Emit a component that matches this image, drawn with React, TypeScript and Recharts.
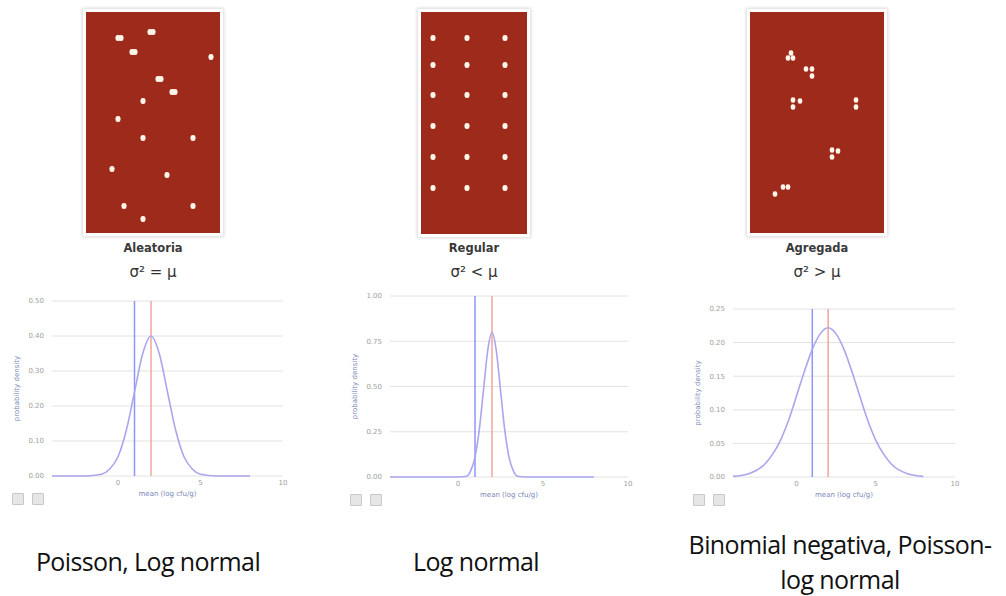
import React from "react";
import {
  CartesianGrid,
  Label,
  Line,
  LineChart,
  ReferenceLine,
  Scatter,
  ScatterChart,
  XAxis,
  YAxis,
} from "recharts";

// colony positions on each plate, in plate units (origin top-left)
const randomColonies = [
  { x: 32, y: 26 }, { x: 35, y: 26 },
  { x: 64, y: 20 }, { x: 67, y: 20 },
  { x: 46, y: 40 }, { x: 49, y: 40 },
  { x: 125, y: 45 },
  { x: 72, y: 67 }, { x: 75, y: 67 },
  { x: 86, y: 80 }, { x: 89, y: 80 },
  { x: 57, y: 89 },
  { x: 32, y: 107 },
  { x: 57, y: 126 },
  { x: 107, y: 126 },
  { x: 26, y: 157 },
  { x: 81, y: 163 },
  { x: 38, y: 194 },
  { x: 107, y: 194 },
  { x: 57, y: 207 },
];

const regularCols = [12, 46, 84];
const regularRows = [26, 53, 83, 114, 145, 176];
const regularColonies = regularRows.flatMap((y) => regularCols.map((x) => ({ x, y })));

const aggregatedColonies = [
  { x: 41, y: 41 }, { x: 38, y: 46 }, { x: 43, y: 46 },
  { x: 56, y: 57 }, { x: 62, y: 57 }, { x: 62, y: 64 },
  { x: 43, y: 88 }, { x: 43, y: 95 }, { x: 50, y: 89 },
  { x: 106, y: 88 }, { x: 106, y: 95 },
  { x: 82, y: 138 }, { x: 82, y: 145 }, { x: 88, y: 139 },
  { x: 25, y: 182 }, { x: 33, y: 175 }, { x: 38, y: 175 },
];

// density curves: [mean (log cfu/g), probability density]
const poissonCurve = [
  [-4, 0], [-3, 0], [-2, 0], [-1, 0.005], [-0.5, 0.02], [0, 0.055], [0.5, 0.13],
  [1, 0.24], [1.5, 0.35], [2, 0.4], [2.5, 0.35], [3, 0.24], [3.5, 0.13], [4, 0.055],
  [4.5, 0.02], [5, 0.005], [6, 0], [7, 0], [8, 0],
];
const regularCurve = [
  [-4, 0], [-2, 0], [0, 0], [0.5, 0.004], [0.75, 0.035], [1, 0.11], [1.25, 0.26],
  [1.5, 0.48], [1.75, 0.7], [2, 0.8], [2.25, 0.7], [2.5, 0.48], [2.75, 0.26],
  [3, 0.11], [3.25, 0.035], [3.5, 0.004], [4, 0], [6, 0], [8, 0],
];
const aggregatedCurve = [
  [-4, 0.001], [-3, 0.005], [-2, 0.019], [-1.5, 0.034], [-1, 0.055], [-0.5, 0.084],
  [0, 0.12], [0.5, 0.157], [1, 0.19], [1.5, 0.213], [2, 0.222], [2.5, 0.213],
  [3, 0.19], [3.5, 0.157], [4, 0.12], [4.5, 0.084], [5, 0.055], [5.5, 0.034],
  [6, 0.019], [7, 0.005], [8, 0.001],
];

const xTicks = [0, 5, 10];
const poissonTicks = [0, 0.1, 0.2, 0.3, 0.4, 0.5];
const regularTicks = [0, 0.25, 0.5, 0.75, 1];
const aggregatedTicks = [0, 0.05, 0.1, 0.15, 0.2, 0.25];
const lowerMean = 1;
const upperMean = 2;

const toRows = (pts: number[][]) => pts.map(([m, d]) => ({ m, d }));

const RED = "#9e2a1c";

type PlateProps = {
  left: number;
  top: number;
  width: number;
  height: number;
  colonies: { x: number; y: number }[];
  dot: number;
  name: string;
  formula: string;
};

const Plate = ({ left, top, width, height, colonies, dot, name, formula }: PlateProps) => {
  const Colony = (p: any) => (
    <rect
      x={p.cx - dot / 2}
      y={p.cy - (dot + 1) / 2}
      width={dot}
      height={dot + 1}
      rx={dot / 2.2}
      fill="#fff6ea"
    />
  );
  return (
    <>
      <div
        style={{
          position: "absolute",
          left: left - 3,
          top: top - 3,
          width: width + 6,
          height: height + 6,
          background: "#fff",
          boxShadow: "0 0 3px 1px #d8d8d8",
        }}
      >
        <div style={{ position: "absolute", left: 3, top: 3, width, height, background: RED }}>
          <ScatterChart width={width} height={height} margin={{ top: 0, right: 0, bottom: 0, left: 0 }}>
            <XAxis type="number" dataKey="x" domain={[0, width]} hide />
            <YAxis type="number" dataKey="y" domain={[0, height]} reversed hide />
            <Scatter data={colonies} shape={Colony} isAnimationActive={false} />
          </ScatterChart>
        </div>
      </div>
      <div
        style={{
          position: "absolute",
          left: left + width / 2 - 60,
          width: 120,
          top: 241,
          textAlign: "center",
          fontFamily: "DejaVu Sans",
          fontWeight: 600,
          fontSize: 11.5,
          color: "#3a3a3a",
        }}
      >
        {name}
      </div>
      <div
        style={{
          position: "absolute",
          left: left + width / 2 - 60,
          width: 120,
          top: 263,
          textAlign: "center",
          fontFamily: "DejaVu Sans",
          fontSize: 15,
          color: "#333",
        }}
      >
        {formula}
      </div>
    </>
  );
};

type DensityProps = {
  x0: number;
  x1: number;
  y0: number;
  y1: number;
  curve: number[][];
  yMax: number;
  yTicks: number[];
};

const AXIS_W = 52;

const DensityChart = ({ x0, x1, y0, y1, curve, yMax, yTicks }: DensityProps) => {
  const width = x1 - x0 + AXIS_W + 10;
  const height = y1 - y0 + 10 + 24;
  const tick = { fontSize: 7, fill: "#a0a0a0", fontFamily: "DejaVu Sans" };
  return (
    <>
      <div style={{ position: "absolute", left: x0 - AXIS_W, top: y0 - 10 }}>
        <LineChart width={width} height={height} data={toRows(curve)} margin={{ top: 10, right: 10, left: 0, bottom: 4 }}>
          <CartesianGrid vertical={false} stroke="#e2e2e2" />
          <XAxis
            type="number"
            dataKey="m"
            domain={[-4, 10]}
            ticks={xTicks}
            height={20}
            axisLine={false}
            tickLine={false}
            tickSize={2}
            tickMargin={2}
            tick={tick}
          >
            <Label
              value="mean (log cfu/g)"
              position="insideBottom"
              offset={0}
              style={{ fontSize: 7, fill: "#7a86b8", fontFamily: "DejaVu Sans" }}
            />
          </XAxis>
          <YAxis
            type="number"
            domain={[0, yMax]}
            ticks={yTicks}
            width={AXIS_W}
            axisLine={false}
            tickLine={false}
            tick={tick}
            tickFormatter={(v: number) => v.toFixed(2)}
          >
            <Label
              content={({ viewBox }: any) => {
                const cx = viewBox.x + 17;
                const cy = viewBox.y + viewBox.height / 2;
                return (
                  <text
                    x={cx}
                    y={cy}
                    transform={`rotate(-90 ${cx} ${cy})`}
                    textAnchor="middle"
                    dominantBaseline="central"
                    fontSize={7}
                    fill="#7a86b8"
                    fontFamily="DejaVu Sans"
                  >
                    probability density
                  </text>
                );
              }}
            />
          </YAxis>
          <ReferenceLine x={lowerMean} stroke="#8f95ff" strokeWidth={1.5} />
          <ReferenceLine x={upperMean} stroke="#f2a59c" strokeWidth={1.5} />
          <Line
            type="monotone"
            dataKey="d"
            stroke="#aaa6ee"
            strokeWidth={1.6}
            dot={false}
            isAnimationActive={false}
          />
        </LineChart>
      </div>
      {[0, 1].map((i) => (
        <div
          key={i}
          style={{
            position: "absolute",
            left: x0 - 40 + i * 20,
            top: y1 + 17,
            width: 10,
            height: 10,
            background: "#e6e6e6",
            border: "1px solid #c8c8c8",
            borderRadius: 1,
          }}
        />
      ))}
    </>
  );
};

const caption: React.CSSProperties = {
  position: "absolute",
  textAlign: "center",
  fontFamily: "Open Sans",
  fontSize: 25,
  letterSpacing: -0.6,
  color: "#111",
  lineHeight: "35px",
};

export default function App() {
  return (
    <div
      style={{
        position: "absolute",
        left: 0,
        top: 0,
        width: 1006,
        height: 596,
        background: "#fff",
        overflow: "hidden",
      }}
    >
      <Plate left={86} top={12} width={134} height={221} colonies={randomColonies} dot={5} name="Aleatoria" formula="σ² = μ" />
      <Plate left={421} top={12} width={106} height={222} colonies={regularColonies} dot={5} name="Regular" formula="σ² < μ" />
      <Plate left={750} top={12} width={134} height={221} colonies={aggregatedColonies} dot={4.5} name="Agregada" formula="σ² > μ" />

      <DensityChart x0={52} x1={283} y0={301} y1={476} curve={poissonCurve} yMax={0.5} yTicks={poissonTicks} />
      <DensityChart x0={390} x1={628} y0={296} y1={477} curve={regularCurve} yMax={1} yTicks={regularTicks} />
      <DensityChart x0={733} x1={955} y0={309} y1={477} curve={aggregatedCurve} yMax={0.25} yTicks={aggregatedTicks} />

      <div style={{ ...caption, left: 0, width: 296, top: 544 }}>Poisson, Log normal</div>
      <div style={{ ...caption, left: 376, width: 200, top: 544 }}>Log normal</div>
      <div style={{ ...caption, left: 660, width: 360, top: 527 }}>
        Binomial negativa, Poisson-
        <br />
        log normal
      </div>
    </div>
  );
}
